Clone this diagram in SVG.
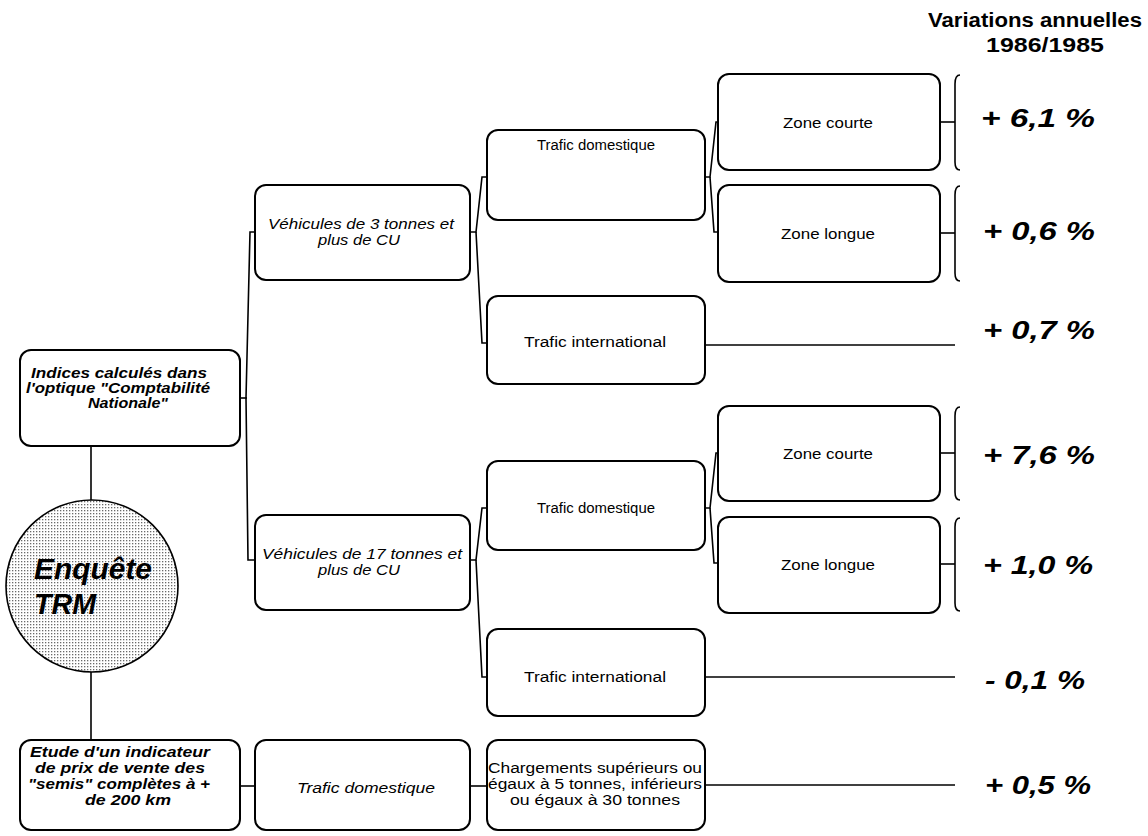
<svg xmlns="http://www.w3.org/2000/svg" width="1148" height="836" viewBox="0 0 1148 836">
<defs>
<pattern id="dots" width="3" height="3" patternUnits="userSpaceOnUse">
<rect width="3" height="3" fill="#ffffff"/>
<rect width="1.3" height="1.3" fill="#6a6a6a"/>
</pattern>
</defs>
<style>
.box{fill:#ffffff;stroke:#000;stroke-width:2}
.ln{fill:none;stroke:#000;stroke-width:1.6}
.t{font-family:"Liberation Sans",Arial,sans-serif;font-size:14px;fill:#000;text-anchor:middle}
.bi{font-weight:bold;font-style:italic}
.it{font-style:italic}
.pct{font-family:"Liberation Sans",Arial,sans-serif;font-size:26px;font-weight:bold;font-style:italic;fill:#000}
.title{font-family:"Liberation Sans",Arial,sans-serif;font-size:20px;font-weight:bold;fill:#000;text-anchor:middle}
.big{font-family:"Liberation Sans",Arial,sans-serif;font-size:30px;font-weight:bold;font-style:italic;fill:#000}
</style>
<rect width="1148" height="836" fill="#fff"/>
<g id="title">
<text class="title" x="1035" y="27" textLength="214" lengthAdjust="spacingAndGlyphs">Variations annuelles</text>
<text class="title" x="1045" y="52" textLength="118" lengthAdjust="spacingAndGlyphs">1986/1985</text>
</g>
<g id="connectors">
<line class="ln" x1="91" y1="446" x2="91" y2="502"/>
<line class="ln" x1="91" y1="671" x2="91" y2="740"/>
<polyline class="ln" points="240,398 247,398"/>
<polyline class="ln" points="255,232 250,232 246,398 248,560 255,560"/>
<polyline class="ln" points="470,232 476,232 482,177 487,177"/>
<polyline class="ln" points="476,232 482,343 487,343"/>
<polyline class="ln" points="705,177 710,177 716,122 718,122"/>
<polyline class="ln" points="710,177 714,232 718,232"/>
<polyline class="ln" points="470,560 476,560 482,508 487,508"/>
<polyline class="ln" points="476,560 482,677 487,677"/>
<polyline class="ln" points="705,508 710,508 716,453 718,453"/>
<polyline class="ln" points="710,508 714,563 718,563"/>
<line class="ln" x1="940" y1="122" x2="955" y2="122"/>
<line class="ln" x1="940" y1="233" x2="955" y2="233"/>
<line class="ln" x1="940" y1="453" x2="955" y2="453"/>
<line class="ln" x1="940" y1="564" x2="955" y2="564"/>
<path class="ln" d="M960,75 Q955,75 955,84 L955,162 Q955,170 960,170"/>
<path class="ln" d="M960,186 Q955,186 955,195 L955,273 Q955,281 960,281"/>
<path class="ln" d="M960,407 Q955,407 955,416 L955,492 Q955,500 960,500"/>
<path class="ln" d="M960,518 Q955,518 955,527 L955,603 Q955,611 960,611"/>
<line class="ln" x1="705" y1="345" x2="955" y2="345"/>
<line class="ln" x1="705" y1="677" x2="955" y2="677"/>
<line class="ln" x1="705" y1="785" x2="955" y2="785"/>
<line class="ln" x1="240" y1="786" x2="255" y2="786"/>
<line class="ln" x1="470" y1="786" x2="487" y2="786"/>
</g>
<g id="n-indices">
<rect class="box" x="20" y="350" width="220" height="96" rx="11"/>
<text class="t bi" x="119" y="378" textLength="176" lengthAdjust="spacingAndGlyphs">Indices calculés dans</text>
<text class="t bi" x="118" y="393" textLength="184" lengthAdjust="spacingAndGlyphs">l'optique "Comptabilité</text>
<text class="t bi" x="128" y="408" textLength="80" lengthAdjust="spacingAndGlyphs">Nationale"</text>
</g>
<g id="n-enquete">
<circle cx="92" cy="586" r="86" fill="url(#dots)" stroke="#000" stroke-width="1.6"/>
<text class="big" x="34" y="579" textLength="118" lengthAdjust="spacingAndGlyphs">Enquête</text>
<text class="big" x="34" y="614" textLength="62" lengthAdjust="spacingAndGlyphs">TRM</text>
</g>
<g id="n-etude">
<rect class="box" x="20" y="740" width="220" height="90" rx="11"/>
<text class="t bi" x="120" y="757" textLength="180" lengthAdjust="spacingAndGlyphs">Etude d'un indicateur</text>
<text class="t bi" x="120" y="773" textLength="170" lengthAdjust="spacingAndGlyphs">de prix de vente des</text>
<text class="t bi" x="119" y="789" textLength="182" lengthAdjust="spacingAndGlyphs">"semis" complètes à +</text>
<text class="t bi" x="128" y="805" textLength="86" lengthAdjust="spacingAndGlyphs">de 200 km</text>
</g>
<g id="n-veh3">
<rect class="box" x="255" y="185" width="215" height="95" rx="11"/>
<text class="t it" x="361" y="229" textLength="186" lengthAdjust="spacingAndGlyphs">Véhicules de 3 tonnes et</text>
<text class="t it" x="359" y="245" textLength="82" lengthAdjust="spacingAndGlyphs">plus de CU</text>
</g>
<g id="n-veh17">
<rect class="box" x="255" y="515" width="215" height="95" rx="11"/>
<text class="t it" x="362" y="559" textLength="200" lengthAdjust="spacingAndGlyphs">Véhicules de 17 tonnes et</text>
<text class="t it" x="359" y="575" textLength="82" lengthAdjust="spacingAndGlyphs">plus de CU</text>
</g>
<g id="n-trafdom3">
<rect class="box" x="255" y="740" width="215" height="90" rx="11"/>
<text class="t it" x="366" y="793" textLength="138" lengthAdjust="spacingAndGlyphs">Trafic  domestique</text>
</g>
<g id="n-trafdom1">
<rect class="box" x="487" y="130" width="218" height="90" rx="11"/>
<text class="t" x="596" y="150" textLength="118" lengthAdjust="spacingAndGlyphs">Trafic domestique</text>
</g>
<g id="n-trafint1">
<rect class="box" x="487" y="296" width="218" height="88" rx="11"/>
<text class="t" x="595" y="347" textLength="142" lengthAdjust="spacingAndGlyphs">Trafic international</text>
</g>
<g id="n-trafdom2">
<rect class="box" x="487" y="461" width="218" height="89" rx="11"/>
<text class="t" x="596" y="513" textLength="118" lengthAdjust="spacingAndGlyphs">Trafic domestique</text>
</g>
<g id="n-trafint2">
<rect class="box" x="487" y="629" width="218" height="87" rx="11"/>
<text class="t" x="595" y="682" textLength="142" lengthAdjust="spacingAndGlyphs">Trafic international</text>
</g>
<g id="n-charg">
<rect class="box" x="487" y="740" width="218" height="90" rx="11"/>
<text class="t" x="595" y="773" textLength="214" lengthAdjust="spacingAndGlyphs">Chargements supérieurs ou</text>
<text class="t" x="595" y="789" textLength="214" lengthAdjust="spacingAndGlyphs">égaux à 5 tonnes, inférieurs</text>
<text class="t" x="595" y="805" textLength="170" lengthAdjust="spacingAndGlyphs">ou égaux à 30 tonnes</text>
</g>
<g id="n-zc1">
<rect class="box" x="718" y="74" width="222" height="96" rx="11"/>
<text class="t" x="828" y="128" textLength="90" lengthAdjust="spacingAndGlyphs">Zone courte</text>
</g>
<g id="n-zl1">
<rect class="box" x="718" y="185" width="222" height="97" rx="11"/>
<text class="t" x="828" y="239" textLength="94" lengthAdjust="spacingAndGlyphs">Zone longue</text>
</g>
<g id="n-zc2">
<rect class="box" x="718" y="406" width="222" height="95" rx="11"/>
<text class="t" x="828" y="459" textLength="90" lengthAdjust="spacingAndGlyphs">Zone courte</text>
</g>
<g id="n-zl2">
<rect class="box" x="718" y="517" width="222" height="96" rx="11"/>
<text class="t" x="828" y="570" textLength="94" lengthAdjust="spacingAndGlyphs">Zone longue</text>
</g>
<g id="values">
<text class="pct" x="981" y="127" textLength="114" lengthAdjust="spacingAndGlyphs">+ 6,1 %</text>
<text class="pct" x="983" y="240" textLength="112" lengthAdjust="spacingAndGlyphs">+ 0,6 %</text>
<text class="pct" x="983" y="339" textLength="112" lengthAdjust="spacingAndGlyphs">+ 0,7 %</text>
<text class="pct" x="983" y="464" textLength="112" lengthAdjust="spacingAndGlyphs">+ 7,6 %</text>
<text class="pct" x="983" y="574" textLength="110" lengthAdjust="spacingAndGlyphs">+ 1,0 %</text>
<text class="pct" x="985" y="689" textLength="100" lengthAdjust="spacingAndGlyphs">- 0,1 %</text>
<text class="pct" x="985" y="794" textLength="106" lengthAdjust="spacingAndGlyphs">+ 0,5 %</text>
</g>
</svg>
